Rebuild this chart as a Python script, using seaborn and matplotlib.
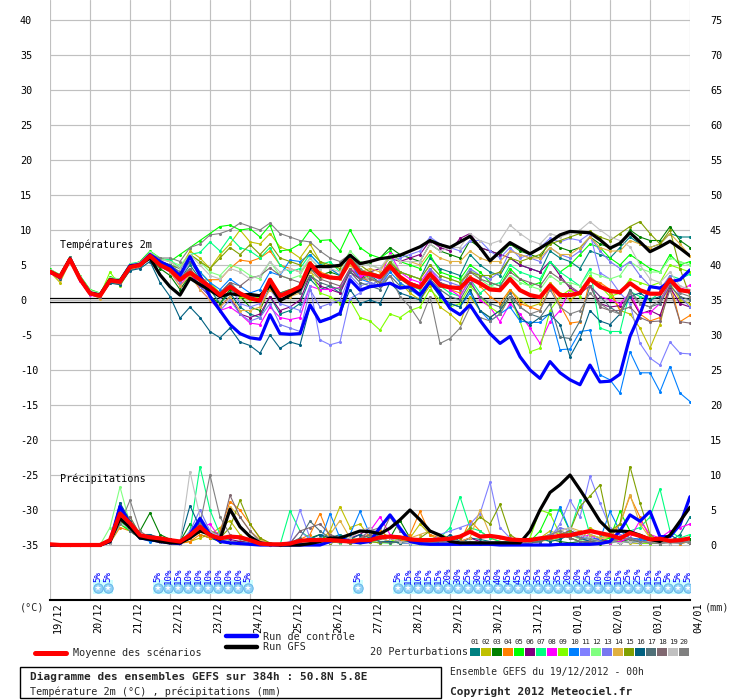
import numpy as np
import pandas as pd
import matplotlib
matplotlib.use("Agg")
import matplotlib.pyplot as plt
import matplotlib.transforms as mtrans
from matplotlib.lines import Line2D
from matplotlib.patches import Rectangle
import seaborn as sns

# ---------------- data ----------------
dates = ["19/12", "20/12", "21/12", "22/12", "23/12", "24/12", "25/12", "26/12", "27/12",
         "28/12", "29/12", "30/12", "31/12", "01/01", "02/01", "03/01", "04/01"]
temp_ticks = [40, 35, 30, 25, 20, 15, 10, 5, 0, -5, -10, -15, -20, -25, -30, -35]
precip_ticks = [75, 70, 65, 60, 55, 50, 45, 40, 35, 30, 25, 20, 15, 10, 5, 0]

member_names = ["01", "02", "03", "04", "05", "06", "07", "08", "09", "10",
                "11", "12", "13", "14", "15", "16", "17", "18", "19", "20"]
member_colors = ["#008080", "#c0c000", "#008000", "#ff8000", "#00ff00", "#800080", "#00ff80",
                 "#ff00ff", "#80ff00", "#0080ff", "#8080ff", "#80ff80", "#7878f0", "#e0b040",
                 "#80a000", "#006080", "#507078", "#806870", "#c0c0c0", "#808080"]

mean_temp = [4.05, 3.3, 5.8, 3.0, 0.95, 0.6, 2.8, 2.6, 4.7, 5.0, 6.3, 5.0, 4.3, 2.9, 3.9, 2.9, 1.9, 0.7, 1.9, 0.95, 0.25,
             -0.1, 2.9, 0.57, 1.2, 1.9, 5.2, 3.6, 3.2, 3.1, 5.7, 3.9, 3.7, 3.3, 4.86, 3.3, 2.3, 1.8, 3.7, 2.1, 1.8, 1.7, 3.1, 2.4,
             1.5, 1.4, 3.0, 1.4, 0.7, 0.4, 2.1, 0.7, 0.7, 1.0, 3.0, 1.9, 1.3, 1.1, 2.4, 1.4, 0.9, 0.9, 2.9, 1.4, 1.2]
gfs_temp = [4.0, 3.4, 5.9, 3.0, 1.0, 0.7, 2.9, 2.7, 4.8, 5.0, 6.0,
            3.6, 1.9, 0.7, 3.1, 2.2, 1.4, 0.5, 0.9, 0.7, 0.8,
            0.6, 2.1, -0.1, 0.7, 1.5, 4.6, 4.8, 4.8, 4.95, 6.4, 5.2, 5.5, 5.9, 6.1, 6.4, 7.0, 7.6, 8.5, 7.9, 7.5, 8.3, 9.1, 7.5,
            5.6, 6.9, 8.2, 7.4, 6.6, 7.4, 8.3, 9.3, 9.8, 9.7, 9.6, 8.6, 7.4, 8.1, 9.6, 8.3, 6.9, 7.6, 8.4, 7.4, 6.3]
ctrl_temp = [4.1, 3.2, 5.9, 3.0, 1.0, 0.7, 2.8, 2.7, 4.9, 5.1, 6.5, 5.5, 4.8, 3.5, 6.2, 3.5,
             0.5, -1.5, -3.5, -4.8, -5.4, -5.6,
             -2.1, -4.8, -4.9, -4.8, -0.7, -3.1, -2.6, -1.9, 2.9, 1.4, 1.9, 2.1, 2.4, 1.7, 1.9, 0.7, 2.6, 1.0, -1.2, -2.1, -0.7, -2.9,
             -4.8, -6.2, -5.2, -8.1, -10.0, -11.2, -8.8, -10.4, -11.4, -12.1, -9.3, -11.7, -11.6, -10.6, -5.2, -2.0, 1.9, 1.7, 2.6, 2.9, 4.3]

t01 = [4.2, 3.0, 6.0, 3.2, 1.2, 0.8, 3.0, 2.8, 4.5, 5.2, 6.5,
       5.5, 4.5, 3.0, 5.0, 3.0, 1.5, -0.5, 1.0, -1.0, -2.0, -2.5,
       0.5, -2.0, -1.5, -0.5, 3.0, 1.5, 2.0, 1.0, 4.5, 3.0, 3.5, 2.5, 5.0, 4.0,
       3.5, 3.0, 6.0, 4.5, 4.0, 3.5, 6.5, 5.0, 4.0, 3.5, 6.0, 5.0,
       4.5, 4.0, 7.0, 6.0, 5.5, 4.5, 7.0, 6.5, 6.0, 7.5, 9.0, 8.0, 7.5, 8.0, 9.5, 9.0, 9.0]
t02 = [4.0, 2.5, 5.5, 2.8, 1.0, 0.8, 3.2, 2.5, 4.8, 5.5, 6.8,
       5.8, 5.5, 4.5, 7.0, 6.0, 4.5, 6.5, 8.0, 10.0, 8.3, 8.0,
       9.5, 7.6, 7.0, 6.0, 8.0, 5.5, 4.5, 3.5, 6.5, 4.0, 3.0, 2.5, 5.0, 2.5,
       1.0, 0.0, 2.0, -1.0, -2.0, -3.3, 0.5, -1.5, -2.5, -1.5, 1.5, 0.0,
       -1.0, -0.5, 2.5, 1.0, 0.0, 1.0, 3.0, 2.0, 1.0, -1.5, -2.0, -4.0, -6.9, -3.5, 2.4, 0.0, -0.5]
t03 = [4.3, 3.5, 6.0, 3.2, 1.2, 0.5, 2.6, 2.4, 4.5, 4.8, 6.0,
       4.5, 3.5, 1.5, 3.5, 2.0, 0.5, -0.5, 1.5, 0.5, -1.0, -1.5,
       2.0, 0.0, 0.5, 1.5, 4.5, 3.5, 4.0, 3.5, 6.5, 5.0, 5.5, 6.0, 7.5, 6.5,
       6.0, 5.5, 8.0, 7.0, 6.5, 6.0, 8.5, 7.5, 7.0, 6.5, 8.0, 7.0,
       6.5, 6.0, 8.5, 7.5, 7.0, 7.5, 9.0, 8.0, 7.5, 8.0, 10.0, 9.0, 8.5, 8.5, 10.5, 8.5, 7.5]
t04 = [4.0, 3.2, 5.6, 2.9, 0.8, 0.3, 2.7, 2.6, 4.9, 5.0, 6.4,
       5.0, 4.5, 3.0, 4.5, 2.8, 2.9, 2.9, 4.5, 5.7, 5.5, 6.0,
       7.0, 5.0, 4.5, 4.0, 5.5, 4.0, 3.5, 3.0, 5.0, 3.5, 2.5, 2.0, 4.5, 3.0,
       2.5, 2.0, 4.0, 2.5, 1.5, 1.0, 3.5, 2.0, 0.5, -0.5, 1.5, -0.5,
       -1.0, -1.5, 2.0, -0.7, -3.3, -3.1, 2.9, 2.5, 1.5, -1.5, 0.5, -2.0, -3.0, -2.5, 2.5, -3.1, -2.2]
t05 = [4.4, 3.6, 6.2, 3.5, 1.5, 1.0, 3.3, 2.9, 5.0, 5.5, 7.0,
       6.0, 5.5, 6.5, 7.5, 8.5, 9.5, 10.5, 10.7, 10.0, 10.2, 9.0,
       10.7, 7.0, 7.2, 8.0, 10.0, 8.5, 8.6, 7.0, 10.0, 7.5, 6.5, 6.0, 7.0, 5.5,
       5.0, 4.5, 6.5, 4.0, 3.5, 3.0, 5.0, 4.0, 2.5, 2.0, 4.5, 3.0,
       2.0, 2.5, 5.5, 4.0, 5.0, 6.5, 8.0, 7.5, 6.0, 5.0, 6.5, 5.5, 4.5, 4.0, 6.5, 5.0, 5.5]
t06 = [4.1, 3.1, 5.7, 2.8, 0.9, 0.5, 2.5, 2.3, 4.3, 4.7, 6.1,
       4.8, 4.0, 2.5, 4.0, 2.0, 0.5, -1.0, 0.5, -2.0, -2.5, -2.0,
       0.5, -1.5, -1.0, 0.0, 3.5, 2.0, 1.5, 1.0, 4.0, 3.0, 4.0, 4.5, 6.0, 5.5,
       6.0, 6.5, 8.5, 7.5, 7.0, 8.8, 9.5, 7.5, 7.0, 6.5, 6.0, 5.0,
       4.5, 4.0, 5.5, 3.5, 1.7, 1.0, 2.0, -0.5, -1.0, -0.8, 0.5, -2.0, -1.5, -2.2, 1.8, -0.5, -1.0]
t07 = [4.3, 3.4, 6.0, 3.3, 1.3, 0.9, 3.1, 3.0, 5.2, 5.4, 6.8,
       5.8, 5.8, 4.5, 6.5, 6.8, 8.3, 7.0, 9.0, 7.5, 7.0, 6.0,
       7.5, 5.0, 4.0, 4.5, 6.5, 5.0, 5.5, 4.0, 6.0, 4.5, 3.5, 3.0, 5.5, 3.0,
       2.0, 1.5, 4.0, 2.0, 1.0, 0.5, 3.0, 1.0, 2.0, 2.5, 5.0, 4.0,
       3.5, 3.0, 5.5, 4.0, 3.0, 2.0, 4.5, -4.0, -4.5, -4.5, 1.2, 0.5, 0.0, 1.0, 3.5, 3.0, 3.7]
t08 = [3.9, 3.0, 5.5, 2.7, 0.7, 0.4, 2.6, 2.5, 4.6, 4.9, 6.2,
       5.0, 4.0, 2.0, 4.0, 1.5, 0.0, -1.5, -1.0, -2.0, -3.3, -3.5,
       -1.0, -2.5, -2.8, -2.5, 2.0, 1.5, 1.5, 1.8, 4.5, 3.5, 3.5, 3.0, 6.7, 4.0,
       3.0, 2.5, 4.5, 2.5, 1.5, 0.5, 3.0, 0.0, -1.0, -3.1, -0.5, -2.0,
       -4.0, -6.2, -3.1, -1.5, 1.5, 1.0, 2.0, 0.5, 0.0, -0.5, 1.0, -1.8, -1.8, -0.5, 2.5, 1.5, 2.1]
t09 = [4.0, 3.3, 5.9, 3.1, 1.1, 0.7, 4.0, 2.0, 4.4, 5.0, 6.5,
       5.5, 5.0, 3.5, 5.5, 4.0, 2.5, 1.0, 2.0, 0.5, 0.0, 0.5,
       3.0, 1.0, 1.5, 2.0, 4.5, 1.0, 0.5, -0.5, 0.0, -2.5, -3.0, -4.3, -2.0, -2.5,
       -1.5, -1.0, 1.5, 0.0, -1.0, -0.5, 2.0, 0.5, -1.0, -2.0, 0.5, -3.0,
       -7.4, -6.9, -1.5, 0.5, 1.5, 0.5, 3.5, 2.0, 0.5, 1.0, 3.0, 2.5, 2.0, 2.5, 5.0, 4.5, 4.0]
t10 = [4.1, 3.4, 5.8, 3.0, 1.0, 0.6, 2.9, 2.7, 4.8, 5.2, 6.6,
       5.5, 5.0, 4.5, 6.2, 4.0, 2.5, 1.5, 3.0, 2.0, 1.0, 1.5,
       4.0, 3.5, 5.7, 5.5, 6.5, 5.0, 4.5, 3.5, 5.5, 3.0, 2.5, 2.0, 4.0, 2.5,
       1.5, 0.5, 2.5, 0.5, -0.5, -1.0, 1.0, -1.5, -3.0, -2.0, -1.0, -3.0,
       -3.2, -3.2, -1.9, -7.1, -7.0, -4.5, -4.3, -10.7, -11.4, -13.3, -7.4, -10.4, -10.4, -13.1, -9.5, -13.3, -14.5]
t11 = [4.2, 3.2, 5.9, 3.0, 1.1, 0.6, 2.8, 2.6, 4.7, 5.1, 6.3,
       5.2, 4.5, 3.0, 5.5, 3.5, 2.0, 0.5, 2.0, -0.5, -1.0, -0.5,
       1.5, -0.5, -1.0, -1.5, 2.0, -5.7, -6.4, -6.0, 0.2, 1.0, 2.0, 3.0, 5.5, 6.0,
       6.5, 7.0, 9.0, 8.0, 7.5, 7.0, 8.5, 8.5, 7.0, 6.0, 7.5, 6.0,
       6.5, 7.5, 8.8, 8.3, 8.8, 8.5, 9.5, 3.9, 3.0, 1.0, -0.5, -6.2, -8.3, -9.3, -6.0, -7.6, -7.7]
t12 = [4.3, 3.6, 6.1, 3.4, 1.4, 1.0, 3.2, 3.0, 5.1, 5.3, 6.9,
       6.0, 5.5, 5.0, 6.5, 5.5, 4.0, 3.5, 5.0, 4.5, 3.5, 3.0,
       5.5, 3.5, 3.0, 3.5, 6.0, 4.5, 5.0, 4.5, 7.0, 5.5, 5.0, 4.5, 6.0, 4.0,
       3.5, 3.0, 5.0, 3.5, 3.0, 2.5, 4.5, 3.0, 2.0, 1.5, 3.5, 2.5,
       2.0, 1.5, 3.5, 2.5, 2.5, 2.0, 4.0, 3.5, 3.0, 3.5, 5.5, 4.5, 4.0, 4.0, 6.0, 5.5, 5.0]
t13 = [4.0, 3.1, 5.6, 2.8, 0.9, 0.5, 2.7, 2.4, 4.5, 4.9, 6.2,
       5.0, 4.0, 2.5, 4.5, 2.0, 0.5, -1.5, 0.0, -2.0, -3.0, -2.5,
       -0.5, -3.5, -4.0, -4.5, 1.5, -1.0, -0.5, 0.0, 3.5, 2.0, 2.5, 2.0, 4.5, 3.0,
       2.5, 2.0, 4.5, 3.0, 2.5, 2.0, 4.5, 3.5, 3.0, 4.0, 7.0, 6.5,
       6.0, 5.5, 7.5, 6.5, 6.0, 7.0, 9.0, 7.0, 5.5, 4.5, 5.5, 3.5, 2.0, 1.5, 3.5, 0.5, -1.0]
t14 = [4.2, 2.8, 5.7, 3.0, 1.0, 0.2, 2.5, 2.2, 4.3, 4.8, 6.0,
       5.0, 4.0, 2.0, 3.5, 1.5, 0.0, -1.0, 0.5, -1.5, -1.5, -1.0,
       1.5, 0.0, 0.5, 1.0, 4.0, 3.0, 3.5, 3.0, 5.0, 4.0, 4.5, 4.0, 6.5, 5.5,
       5.5, 5.0, 7.0, 6.0, 5.5, 5.5, 7.0, 6.0, 5.5, 5.5, 7.0, 6.5,
       6.0, 6.0, 7.5, 6.5, 6.5, 7.5, 9.0, 7.5, 7.0, 7.0, 8.5, 8.0, 7.5, 8.0, 9.5, 8.0, 6.3]
t15 = [4.1, 3.3, 5.8, 3.1, 1.0, 0.6, 2.8, 2.6, 4.7, 5.0, 6.3,
       5.5, 5.0, 4.5, 6.5, 5.5, 4.5, 6.0, 7.5, 6.5, 7.9, 6.5,
       8.0, 6.0, 5.5, 5.0, 7.0, 5.5, 5.0, 4.5, 6.5, 5.0, 4.0, 3.5, 5.5, 4.0,
       3.5, 3.0, 5.0, 3.5, 3.0, 2.5, 4.0, 3.5, 3.5, 4.0, 6.0, 5.5,
       6.0, 6.5, 8.0, 8.5, 9.0, 9.5, 9.8, 9.0, 8.5, 9.5, 10.5, 11.2, 9.5, 8.0, 10.0, 4.5, 0.5]
t16 = [4.0, 3.0, 6.0, 2.8, 0.8, 0.4, 2.4, 2.2, 4.2, 4.5, 5.5,
       2.5, 0.5, -2.6, -1.0, -2.5, -4.5, -5.4, -4.0, -6.0, -6.5, -7.6,
       -5.0, -6.9, -6.0, -6.4, -1.0, -3.0, -2.5, -2.0, 1.5, -0.5, 0.0, -0.5, 2.5, 1.0,
       0.5, 0.0, 2.5, 0.5, -0.5, -1.0, 1.5, -1.5, -2.5, -1.5, 0.5, -2.5,
       -3.5, -2.5, -2.0, -3.5, -8.1, -5.5, -1.5, -3.0, -3.5, -2.0, 0.5, 1.0, 0.0, 0.5, 3.0, 1.5, 1.0]
t17 = [4.2, 3.4, 6.1, 3.2, 1.2, 0.8, 3.0, 2.7, 4.9, 5.2, 6.6,
       5.5, 5.0, 4.0, 5.5, 3.5, 2.0, 1.0, 2.5, 1.0, 0.5, 0.5,
       2.5, 1.0, 1.5, 1.0, 3.5, 2.5, 2.0, 1.5, 4.0, 2.5, 2.0, 1.5, 3.5, 2.0,
       1.5, 1.0, 3.0, 1.5, 0.5, 0.0, 2.5, 0.5, -0.5, -1.0, 1.0, -1.0,
       -2.0, -2.5, -0.5, -5.3, -5.5, -3.0, 2.0, 0.5, -1.0, -2.0, 1.5, -0.5, -1.0, -0.5, 2.0, 0.5, 0.0]
t18 = [4.0, 3.2, 5.7, 2.9, 0.9, 0.5, 2.7, 2.5, 4.6, 5.0, 6.2,
       5.0, 4.5, 3.0, 4.5, 2.5, 1.5, 1.0, 2.5, 2.0, 3.1, 3.5,
       4.6, 3.5, 3.0, 2.5, 4.5, 3.0, 2.5, 2.0, 4.5, 3.0, 3.0, 2.5, 4.5, 3.0,
       2.5, 2.0, 4.0, 2.5, 2.0, 1.5, 4.0, 3.0, 2.5, 2.0, 4.0, 3.0,
       2.5, 2.0, 4.0, 3.0, 2.0, 1.0, 2.0, -1.0, -1.5, -1.5, -1.0, -2.5, -3.1, -3.0, 1.5, -3.1, -3.3]
t19 = [4.3, 3.5, 6.0, 3.3, 1.3, 0.9, 3.1, 2.9, 5.0, 5.4, 6.7,
       5.8, 5.5, 4.5, 6.5, 5.0, 3.5, 3.0, 4.5, 4.0, 3.0, 3.5,
       5.5, 4.0, 4.5, 4.0, 6.0, 4.5, 4.5, 4.0, 6.5, 5.0, 5.0, 4.5, 6.5, 5.5,
       5.5, 5.5, 8.0, 7.0, 7.5, 7.5, 9.5, 8.5, 8.0, 8.5, 10.7, 9.5,
       8.5, 8.0, 9.5, 9.0, 9.5, 10.0, 11.2, 10.0, 9.0, 8.5, 7.6, 5.0, 3.0, 2.5, 4.0, 2.0, 1.5]
t20 = [4.1, 3.3, 5.8, 3.1, 1.1, 0.7, 2.9, 2.7, 4.8, 5.1, 6.5,
       6.0, 6.0, 5.5, 7.5, 8.0, 9.3, 9.5, 10.0, 11.0, 10.5, 10.0,
       11.0, 9.5, 9.0, 8.5, 8.3, 7.0, 6.0, 5.5, 6.5, 4.5, 3.5, 2.0, 3.5, 0.5,
       -1.0, -3.1, 0.5, -6.2, -5.5, -4.0, -1.0, -2.5, -3.0, -2.0, 0.5, -1.0,
       -2.0, -1.5, 1.5, -1.0, -2.0, -1.5, 1.0, -0.5, -1.5, -2.0, 1.0, -0.5, -1.0, 0.0, 2.5, 1.0, 0.5]

mean_precip = [0.1, 0, 0, 0, 0, 0, 0.7, 4.5, 3.1, 1.4, 1.1, 0.95, 0.7, 0.5,
               1.4, 2.6, 1.4, 0.95, 1.2, 1.1, 0.7, 0.2, 0.1, 0.1, 0.2, 0.6, 0.7, 0.7, 0.7, 0.6, 0.5, 0.7,
               0.7, 1.1, 1.2, 1.1, 0.8, 0.7, 0.7, 0.8, 0.9, 1.2, 1.9, 1.2, 1.3, 1.1, 0.8, 0.7,
               0.7, 0.95, 1.1, 1.3, 1.4, 1.7, 2.0, 1.7, 1.4, 0.95, 1.7, 1.3, 0.8, 0.9, 0.6, 0.7, 0.95]
gfs_precip = [0, 0, 0, 0, 0, 0, 0.5, 3.8, 2.5, 1.0, 0.8, 0.5, 0.3, 0.3,
              1.0, 2.0, 1.5, 0.8, 5.1, 2.6, 1.2, 0.3,
              0.1, 0, 0, 0, 0.2, 0.5, 1.0, 1.0, 1.5, 2.0,
              1.9, 1.6, 2.4, 3.6, 5.0, 3.6, 2.0, 1.4, 0.5, 0.3,
              0.3, 0.3, 0.3, 0.3, 0.3, 0.3,
              2.0, 5.0, 7.5, 8.6, 10.0, 7.9, 5.7, 3.4,
              2.0, 2.0, 1.9, 1.4, 0.8, 0.5, 1.4, 3.4, 5.4]
ctrl_precip = [0, 0, 0, 0, 0, 0, 0.5, 5.5, 3.0, 1.0, 0.8, 0.5, 0.3, 0.2,
               1.5, 3.8, 1.5, 0.5, 0.3, 0.2, 0.1, 0.0,
               0, 0, 0, 0, 0, 0, 0.5, 1.0, 0.5, 0.3,
               0.5, 2.5, 4.3, 2.4, 0.5, 0.2, 0.1, 0.1, 0.1, 0.1,
               0.1, 0.1, 0.1, 0.0, 0.0, 0.0,
               0, 0, 0, 0.1, 0.1, 0.1, 0.1, 0.2,
               0.5, 2.0, 4.3, 3.4, 4.8, 1.2, 1.2, 2.9, 6.9]

p01 = [0, 0, 0, 0, 0, 0, 0.5, 3.5, 2.5, 1.5, 1.0, 1.0, 0.5, 0.3, 1.0, 2.0, 1.5, 0.8, 0.5, 0.5, 0.3, 0.1,
       0, 0, 0.2, 0.5, 0.8, 0.5, 1.0, 1.5, 0.8, 0.5, 1.0, 1.5, 1.0, 0.8, 0.5, 0.3, 0.5, 0.5, 0.3, 0.2,
       1.0, 0.8, 0.5, 0.3, 0.2, 0.2, 0.3, 0.5, 1.0, 1.5, 2.0, 1.0, 0.5, 0.8, 0.5, 0.3, 0.5, 0.5, 0.3, 0.2, 0.5, 1.5, 4.0]
p02 = [0, 0, 0, 0, 0, 0, 0.3, 3.0, 2.0, 1.0, 0.8, 0.5, 0.5, 0.3, 0.5, 1.0, 1.5, 2.5, 3.5, 1.5, 0.5, 0.2,
       0, 0, 0, 0.2, 0.3, 0.5, 2.0, 5.5, 2.5, 3.0, 1.0, 0.5, 0.3, 0.5, 1.0, 3.0, 1.5, 0.5, 0.3, 0.2,
       0.5, 0.3, 0.2, 0.5, 0.3, 0.2, 0.5, 1.0, 2.0, 1.5, 1.0, 0.5, 2.5, 1.5, 1.0, 0.5, 0.3, 0.2, 0.3, 0.5, 0.3, 0.2, 0.5]
p03 = [0, 0, 0, 0, 0, 0, 0.5, 5.0, 2.5, 2.0, 4.6, 1.5, 0.8, 0.5, 3.0, 1.5, 1.0, 0.5, 0.3, 0.5, 0.3, 0.1,
       0, 0, 0.3, 0.5, 1.0, 1.5, 0.5, 0.3, 0.5, 0.8, 1.5, 2.0, 1.0, 3.5, 1.0, 0.5, 0.3, 0.5, 1.0, 0.5,
       0.3, 0.2, 0.3, 0.5, 0.3, 0.2, 0.5, 1.0, 0.8, 0.5, 0.3, 0.5, 0.3, 0.2, 0.3, 0.5, 0.8, 0.5, 0.3, 0.2, 0.3, 0.5, 0.8]
p04 = [0, 0, 0, 0, 0, 0, 0.3, 2.5, 2.0, 1.5, 0.8, 0.5, 0.3, 0.2, 0.5, 1.5, 1.0, 2.0, 6.2, 5.0, 3.0, 1.0,
       0.2, 0, 0.3, 0.8, 1.5, 4.5, 1.0, 0.5, 0.3, 1.0, 1.5, 2.0, 1.0, 0.5, 1.5, 4.8, 1.5, 1.0, 0.5, 0.3,
       3.5, 2.0, 1.0, 0.5, 0.3, 0.2, 0.3, 0.5, 0.8, 1.0, 1.5, 2.0, 1.5, 1.0, 1.0, 3.0, 7.0, 4.0, 1.0, 0.5, 0.3, 0.2, 0.5]
p05 = [0, 0, 0, 0, 0, 0, 0.3, 3.0, 2.0, 1.0, 0.8, 0.5, 0.3, 0.2, 1.0, 3.0, 2.0, 1.0, 0.5, 0.3, 0.2, 0.1,
       0, 0, 0.2, 0.5, 0.5, 0.3, 0.5, 0.5, 0.3, 0.5, 0.5, 0.3, 0.5, 0.3, 0.2, 0.2, 0.3, 0.5, 0.3, 0.2,
       0.5, 0.3, 0.2, 0.3, 0.2, 0.2, 0.5, 2.0, 5.0, 5.0, 2.0, 1.5, 1.0, 0.5, 1.0, 4.8, 2.0, 1.0, 0.5, 0.3, 0.3, 0.5, 0.3]
p06 = [0, 0, 0, 0, 0, 0, 0.5, 4.0, 3.0, 1.5, 1.0, 0.8, 0.5, 0.3, 1.5, 3.0, 2.0, 1.0, 0.8, 0.5, 0.3, 0.1,
       0, 0, 0.2, 0.5, 0.5, 0.8, 0.5, 0.5, 1.0, 1.5, 2.5, 1.5, 1.0, 0.5, 0.5, 0.8, 0.5, 0.3, 0.5, 0.5,
       1.0, 0.5, 0.3, 0.5, 0.3, 0.3, 0.5, 0.8, 1.0, 1.5, 2.0, 1.5, 1.0, 0.8, 0.5, 0.5, 1.0, 0.8, 0.5, 0.3, 0.5, 0.3, 0.5]
p07 = [0, 0, 0, 0, 0, 0, 0.3, 3.5, 2.0, 1.0, 0.8, 0.5, 0.3, 0.2, 2.0, 11.2, 5.0, 1.5, 0.5, 0.3, 0.2, 0.1,
       0, 0, 4.9, 2.0, 1.0, 0.5, 0.3, 0.5, 0.3, 0.5, 1.0, 0.5, 0.5, 0.3, 0.5, 0.3, 0.5, 1.0, 2.5, 6.9,
       2.5, 2.0, 1.0, 0.5, 0.3, 0.2, 0.5, 1.0, 1.5, 1.0, 2.0, 6.4, 1.5, 1.0, 1.5, 1.0, 2.0, 2.5, 4.0, 8.0, 2.0, 1.0, 1.5]
p08 = [0, 0, 0, 0, 0, 0, 0.3, 4.5, 2.5, 1.0, 0.8, 0.5, 0.3, 0.2, 1.0, 2.5, 3.0, 1.0, 0.5, 0.3, 0.2, 0.1,
       0, 0, 0.2, 0.3, 0.5, 0.3, 0.8, 1.0, 0.5, 1.0, 2.0, 4.0, 1.5, 1.0, 0.5, 0.3, 0.5, 0.3, 0.5, 0.3,
       0.5, 0.3, 0.2, 0.3, 0.2, 0.2, 0.3, 0.5, 1.0, 1.5, 2.0, 1.0, 1.5, 0.5, 0.3, 0.5, 1.0, 3.5, 1.5, 1.0, 2.0, 2.5, 3.0]
p09 = [0, 0, 0, 0, 0, 0, 0.3, 3.0, 4.0, 1.5, 1.0, 0.5, 0.3, 0.2, 1.0, 2.0, 1.5, 1.0, 0.5, 0.3, 0.2, 0.1,
       0, 0, 0.3, 0.5, 0.3, 0.5, 0.3, 0.5, 0.3, 0.5, 0.5, 0.3, 0.5, 1.0, 0.5, 0.3, 0.3, 0.5, 0.3, 0.2,
       0.3, 0.2, 0.3, 0.5, 0.3, 0.2, 1.0, 5.0, 4.5, 1.5, 1.0, 0.5, 0.5, 0.3, 0.5, 0.3, 0.5, 0.3, 0.2, 0.3, 0.5, 0.3, 0.5]
p10 = [0, 0, 0, 0, 0, 0, 0.3, 5.0, 2.0, 1.0, 0.5, 0.5, 0.3, 0.2, 1.0, 3.5, 2.0, 0.8, 0.5, 0.3, 0.2, 0.1,
       0, 0, 0.2, 0.3, 0.5, 0.3, 4.5, 1.0, 1.5, 4.8, 1.5, 1.0, 0.5, 0.3, 0.5, 0.3, 0.5, 0.3, 0.5, 0.5,
       0.3, 0.2, 0.3, 0.5, 0.3, 0.2, 0.5, 1.0, 1.5, 5.5, 2.0, 1.0, 1.0, 0.8, 4.8, 2.0, 1.0, 0.8, 0.5, 0.3, 0.5, 0.3, 0.5]
p11 = [0, 0, 0, 0, 0, 0, 0.3, 5.5, 2.0, 1.0, 0.8, 0.5, 0.3, 0.2, 1.5, 4.0, 2.0, 1.0, 0.5, 0.3, 0.2, 0.1,
       0, 0, 0.5, 5.0, 1.0, 0.5, 0.3, 0.5, 0.3, 0.5, 0.5, 0.3, 0.5, 0.3, 0.2, 0.3, 0.5, 1.5, 2.0, 2.5,
       3.0, 4.5, 9.0, 2.5, 1.0, 0.5, 0.3, 0.5, 1.0, 3.0, 6.4, 4.0, 9.8, 6.0, 2.5, 1.5, 1.0, 0.5, 0.3, 0.5, 0.3, 0.5, 0.3]
p12 = [0, 0, 0, 0, 0, 0, 2.5, 8.3, 3.0, 1.5, 1.0, 0.5, 0.3, 0.2, 1.5, 3.0, 1.5, 0.8, 0.5, 0.3, 0.2, 0.1,
       0, 0, 0.2, 0.3, 0.5, 0.3, 0.5, 0.3, 0.5, 0.3, 0.5, 0.3, 0.2, 0.5, 0.3, 0.2, 0.3, 0.5, 0.3, 0.2,
       0.5, 0.3, 0.2, 0.3, 0.5, 0.3, 0.5, 0.8, 0.5, 1.0, 1.5, 0.8, 0.5, 0.3, 0.5, 0.3, 0.5, 0.3, 0.5, 0.3, 0.2, 0.3, 0.5]
p13 = [0, 0, 0, 0, 0, 0, 0.5, 6.0, 2.5, 1.5, 1.0, 0.5, 0.3, 0.2, 2.0, 5.0, 2.0, 1.0, 0.5, 0.3, 0.2, 0.1,
       0, 0, 0.3, 2.0, 0.8, 0.5, 0.3, 0.5, 0.3, 0.5, 0.5, 1.0, 0.5, 0.3, 0.5, 0.3, 0.5, 0.3, 0.5, 0.3,
       0.5, 0.3, 0.5, 0.3, 0.2, 0.2, 0.3, 0.5, 1.0, 2.5, 2.0, 1.0, 0.5, 0.3, 0.5, 0.3, 0.5, 0.3, 0.5, 0.3, 0.2, 0.3, 0.5]
p14 = [0, 0, 0, 0, 0, 0, 0.3, 4.0, 2.0, 1.0, 0.8, 0.5, 0.3, 0.2, 1.0, 2.0, 1.5, 1.0, 5.5, 4.0, 2.0, 0.8,
       0.2, 0, 0.3, 0.5, 0.8, 0.5, 1.5, 3.5, 1.0, 0.8, 1.5, 1.0, 0.5, 0.3, 1.0, 1.5, 2.0, 1.0, 0.5, 0.5,
       1.0, 5.0, 1.5, 1.0, 0.5, 0.3, 0.5, 1.0, 1.5, 2.0, 2.5, 2.0, 1.5, 1.0, 1.5, 3.0, 7.2, 3.0, 1.0, 0.5, 0.3, 0.5, 0.3]
p15 = [0, 0, 0, 0, 0, 0, 0.5, 3.5, 2.5, 1.5, 1.0, 0.5, 0.3, 0.2, 1.0, 2.0, 1.5, 1.0, 2.5, 6.4, 3.0, 1.0,
       0.3, 0, 0.3, 0.5, 0.8, 0.5, 0.3, 0.5, 0.3, 0.5, 0.5, 0.3, 0.5, 0.3, 0.5, 1.0, 2.0, 1.5, 1.0, 1.0,
       2.5, 4.0, 3.0, 5.8, 1.5, 0.5, 0.3, 0.5, 1.0, 1.5, 2.0, 5.5, 7.0, 8.6, 2.0, 3.0, 11.2, 6.0, 1.5, 0.5, 0.3, 0.5, 0.3]
p16 = [0, 0, 0, 0, 0, 0, 0.5, 6.0, 3.5, 1.5, 1.5, 1.0, 0.8, 0.5, 5.6, 2.5, 1.5, 1.0, 0.5, 0.3, 0.2, 0.1,
       0, 0, 0.2, 0.5, 0.8, 1.5, 1.0, 0.5, 0.8, 1.5, 1.0, 0.5, 0.5, 0.3, 0.5, 0.3, 0.5, 0.3, 1.5, 0.5,
       0.5, 0.3, 0.2, 0.3, 0.2, 0.2, 0.5, 1.0, 0.5, 0.8, 1.5, 1.0, 0.5, 0.3, 0.5, 0.3, 0.5, 0.3, 0.5, 0.5, 1.5, 0.5, 0.3]
p17 = [0, 0, 0, 0, 0, 0, 0.3, 4.5, 2.0, 1.0, 0.8, 0.5, 0.3, 0.2, 1.5, 3.0, 1.5, 0.8, 0.5, 0.3, 0.2, 0.1,
       0, 0, 0.3, 1.0, 3.4, 2.0, 1.0, 0.5, 0.5, 0.8, 1.0, 0.5, 0.3, 0.5, 0.3, 0.5, 0.3, 0.5, 0.3, 0.2,
       0.5, 0.3, 0.2, 0.3, 0.2, 0.2, 0.3, 0.5, 1.0, 1.5, 1.0, 0.5, 0.3, 0.3, 0.5, 0.3, 0.5, 0.3, 0.5, 0.3, 0.2, 0.3, 0.5]
p18 = [0, 0, 0, 0, 0, 0, 0.3, 3.5, 4.0, 1.5, 1.0, 0.5, 0.3, 0.2, 1.5, 3.0, 2.0, 1.5, 7.1, 4.0, 2.0, 0.5,
       0.2, 0, 0.2, 2.0, 2.5, 3.0, 1.5, 1.0, 0.5, 0.8, 1.5, 1.0, 4.0, 2.0, 1.0, 0.5, 0.3, 0.5, 0.3, 0.2,
       0.5, 0.3, 0.2, 0.5, 0.3, 0.2, 0.5, 0.8, 1.0, 1.5, 1.0, 0.5, 0.5, 0.3, 0.5, 1.0, 0.8, 0.5, 0.3, 0.5, 0.3, 0.5, 0.3]
p19 = [0, 0, 0, 0, 0, 0, 0.3, 3.0, 2.5, 1.0, 0.8, 0.5, 0.3, 0.2, 10.5, 4.0, 2.0, 1.0, 0.5, 0.3, 0.2, 0.1,
       0, 0, 0.2, 0.3, 0.5, 0.3, 0.5, 0.8, 1.0, 2.0, 2.5, 1.5, 1.0, 0.5, 0.3, 0.2, 0.5, 1.0, 0.8, 0.5,
       0.5, 0.3, 0.2, 0.3, 0.2, 0.2, 0.5, 1.0, 1.5, 2.0, 2.5, 1.5, 1.0, 0.5, 0.5, 0.3, 0.5, 0.3, 0.5, 0.3, 0.2, 0.3, 0.5]
p20 = [0, 0, 0, 0, 0, 0, 0.5, 3.0, 6.4, 2.0, 1.0, 0.8, 0.5, 0.3, 1.0, 3.0, 10.0, 4.0, 1.5, 0.8, 0.5, 0.2,
       0, 0, 0.2, 0.5, 0.8, 1.0, 0.8, 0.5, 0.5, 1.0, 2.0, 2.5, 4.0, 2.0, 1.0, 0.5, 0.3, 0.5, 0.3, 0.2,
       0.5, 0.3, 0.2, 0.5, 0.3, 0.2, 0.5, 1.0, 1.5, 2.0, 1.5, 1.0, 0.8, 0.5, 0.5, 0.8, 1.0, 0.5, 0.3, 0.2, 0.5, 0.3, 0.5]

# snow probability labels (step index, percent)
snow_steps = [4, 5, 10, 11, 12, 13, 14, 15, 16, 17, 18, 19, 30] + list(range(34, 64))
snow_pct = [5, 5, 5, 10, 15, 10, 10, 10, 10, 10, 10, 5, 5,
            5, 15, 10, 15, 15, 20, 30, 25, 30, 35, 40, 45, 45, 35, 35, 30, 35, 20, 20, 25, 10, 10,
            15, 25, 25, 15, 15, 5, 5, 5]

temps = [t01, t02, t03, t04, t05, t06, t07, t08, t09, t10, t11, t12, t13, t14, t15, t16, t17, t18, t19, t20]
precs = [p01, p02, p03, p04, p05, p06, p07, p08, p09, p10, p11, p12, p13, p14, p15, p16, p17, p18, p19, p20]

steps = np.arange(len(mean_temp))
rows = []
for name, tv, pv in zip(member_names, temps, precs):
    for s, a, b in zip(steps, tv, pv):
        rows.append((name, s, a, b))
df = pd.DataFrame(rows, columns=["member", "step", "temp", "precip"])
palette = dict(zip(member_names, member_colors))

# ---------------- figure ----------------
sns.set_theme(style="white")
plt.rcParams["font.family"] = ["DejaVu Sans Mono", "DejaVu Sans"]
FS = 7.3
GRID = "#c0c0c0"

fig = plt.figure(figsize=(7.4, 7.0), dpi=100)
ax = fig.add_axes([50 / 740, 100 / 700, 640 / 740, 600 / 700])
ax.set_facecolor("white")
ylo, yhi = -300 / 7, 300 / 7
ax.set_xlim(0, 64)
ax.set_ylim(ylo, yhi)

ax.set_yticks(temp_ticks)
ax.set_yticklabels([str(v) for v in temp_ticks])
ax.set_xticks(np.arange(0, 65, 4))
ax.set_xticklabels(dates, rotation=90)
ax.grid(True, color=GRID, lw=0.85)
ax.set_axisbelow(True)
ax.tick_params(axis="y", length=0, pad=21.6, labelsize=FS, colors="black")
ax.tick_params(axis="x", length=0, pad=1.5, labelsize=FS, colors="black")
for lab in ax.get_yticklabels():
    lab.set_horizontalalignment("left")
offset = mtrans.ScaledTranslation(8 / 100, 0, fig.dpi_scale_trans)
for lab in ax.get_xticklabels():
    lab.set_transform(lab.get_transform() + offset)
for side in ["left", "right", "top"]:
    ax.spines[side].set_visible(False)
ax.spines["bottom"].set_color("black")
ax.spines["bottom"].set_linewidth(1.5)

# zero double line
ax.axhline(0.24, color="black", lw=0.9, zorder=1.5)
ax.axhline(-0.24, color="black", lw=0.9, zorder=1.5)

# perturbations: temperature
sns.lineplot(data=df, x="step", y="temp", hue="member", palette=palette, ax=ax, legend=False,
             estimator=None, lw=0.8, marker="o", markersize=2.2, markeredgewidth=0)
sns.lineplot(x=steps, y=ctrl_temp, color="#0000ff", lw=2.3, ax=ax)
sns.lineplot(x=steps, y=gfs_temp, color="black", lw=2.3, ax=ax)
sns.lineplot(x=steps, y=mean_temp, color="#ff0000", lw=3.0, ax=ax)

# precipitation on right axis
ax2 = ax.twinx()
ax2.set_ylim(ylo + 35, yhi + 35)
ax2.set_yticks(precip_ticks)
ax2.set_yticklabels([str(v) for v in precip_ticks])
ax2.tick_params(axis="y", length=0, pad=14.4, labelsize=FS, colors="black")
for side in ["left", "right", "top", "bottom"]:
    ax2.spines[side].set_visible(False)
ax2.grid(False)
sns.lineplot(data=df, x="step", y="precip", hue="member", palette=palette, ax=ax2, legend=False,
             estimator=None, lw=0.8, marker="o", markersize=2.2, markeredgewidth=0)
sns.lineplot(x=steps, y=ctrl_precip, color="#0000ff", lw=2.3, ax=ax2)
sns.lineplot(x=steps, y=gfs_precip, color="black", lw=2.3, ax=ax2)
sns.lineplot(x=steps, y=mean_precip, color="#ff0000", lw=3.0, ax=ax2)
ax2.set_xlim(0, 64)
ax2.set_xlabel("")
ax2.set_ylabel("")
ax.set_xlabel("")
ax.set_ylabel("")

# section labels
ax.text(1.0, (300 - 245) / 7, "Températures 2m", fontsize=FS, va="center", ha="left", color="black")
ax.text(1.0, (300 - 479) / 7, "Précipitations", fontsize=FS, va="center", ha="left", color="black")

# snow probabilities
y_lab = (300 - 576) / 7
y_flake = (300 - 588) / 7
for s, pct in zip(snow_steps, snow_pct):
    xs = s + 0.8
    ax.add_patch(Rectangle((xs - 0.5, (300 - 594) / 7), 1.0, 14 / 7, facecolor="#d0ffff",
                           edgecolor="none", zorder=3))
    ax.text(xs, y_lab, f"{pct}%", rotation=90, ha="center", va="center", fontsize=6.6,
            color="#0000ff", zorder=5)
ax.scatter([s + 0.8 for s in snow_steps], [y_flake] * len(snow_steps), s=46, marker="o",
           facecolor="#8fd0f5", edgecolor="#58aee6", linewidth=0.6, zorder=4)
ax.scatter([s + 0.8 for s in snow_steps], [y_flake] * len(snow_steps), s=22, marker="*",
           facecolor="white", edgecolor="none", zorder=5)


# ---------------- legend / footer ----------------
def fx(px):
    return px / 740


def fy(py):
    return 1 - py / 700


fig.text(fx(20), fy(607), "(°C)", fontsize=FS, va="center", ha="left")
fig.text(fx(705), fy(607), "(mm)", fontsize=FS, va="center", ha="left")

fig.add_artist(Line2D([fx(226), fx(257)], [fy(636), fy(636)], color="#0000ff", lw=3.2))
fig.text(fx(263), fy(637), "Run de contrôle", fontsize=FS, va="center", ha="left")
fig.add_artist(Line2D([fx(226), fx(257)], [fy(647), fy(647)], color="black", lw=3.2))
fig.text(fx(263), fy(647), "Run GFS", fontsize=FS, va="center", ha="left")
fig.add_artist(Line2D([fx(35), fx(66)], [fy(653), fy(653)], color="#ff0000", lw=3.6))
fig.text(fx(73), fy(653), "Moyenne des scénarios", fontsize=FS, va="center", ha="left")
fig.text(fx(370), fy(652), "20 Perturbations", fontsize=FS, va="center", ha="left")
for k, (nm, col) in enumerate(zip(member_names, member_colors)):
    x0 = 470 + 11 * k
    fig.add_artist(Rectangle((fx(x0), fy(656)), 10 / 740, 8 / 700, facecolor=col,
                             edgecolor="none", transform=fig.transFigure))
    fig.text(fx(x0 + 5), fy(642), nm, fontsize=5.2, va="center", ha="center")

fig.add_artist(Rectangle((fx(20), fy(698)), 421 / 740, 31 / 700, facecolor="none",
                         edgecolor="black", lw=1.0, transform=fig.transFigure))
fig.text(fx(30), fy(677), "Diagramme des ensembles GEFS sur 384h : 50.8N 5.8E", fontsize=8.0,
         fontweight="bold", va="center", ha="left")
fig.text(fx(30), fy(692), "Température 2m (°C) , précipitations (mm)", fontsize=FS,
         va="center", ha="left")
fig.text(fx(450), fy(672), "Ensemble GEFS du 19/12/2012 - 00h", fontsize=7.0, va="center", ha="left")
fig.text(fx(450), fy(692), "Copyright 2012 Meteociel.fr", fontsize=8.0, fontweight="bold",
         va="center", ha="left")

fig.savefig("out.png", dpi=100, facecolor="white")
